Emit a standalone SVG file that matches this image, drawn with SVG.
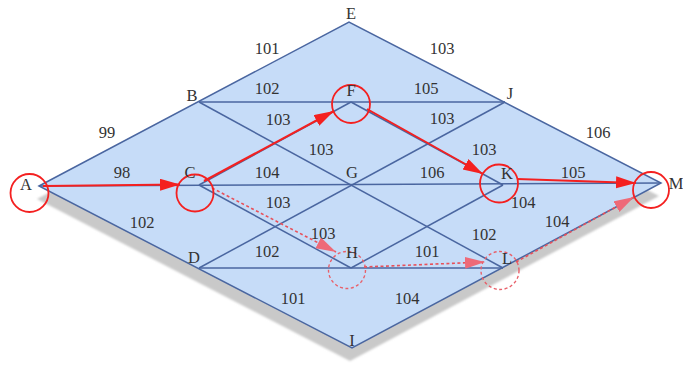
<svg xmlns="http://www.w3.org/2000/svg" width="683" height="367" viewBox="0 0 683 367">
<style>
.lbl{font-family:"Liberation Serif","Times New Roman",serif;font-size:16.5px;fill:#333;text-anchor:middle}
.edge{stroke:#4a66a0;stroke-width:1.5;fill:none}
.red{stroke:#f42020;stroke-width:2;fill:none}
.redd{stroke:#e8505a;stroke-width:1.6;fill:none;stroke-dasharray:3 2.5}
.ring{stroke:#f42020;stroke-width:1.8;fill:none}
.ringd{stroke:#e8606a;stroke-width:1.4;fill:none;stroke-dasharray:3 2.5}
</style>
<defs>
<marker id="ah" markerUnits="userSpaceOnUse" markerWidth="22" markerHeight="14" refX="20" refY="6" orient="auto"><path d="M0,0 L20,6 L0,12 z" fill="#f42020"/></marker>
<marker id="ahd" markerUnits="userSpaceOnUse" markerWidth="22" markerHeight="14" refX="20" refY="6" orient="auto"><path d="M0,0 L20,6 L0,12 z" fill="#ee6a78"/></marker>
<filter id="blur" x="-5%" y="-5%" width="110%" height="110%"><feGaussianBlur stdDeviation="1.2"/></filter>
</defs>
<polygon points="37,199 347,35 659,196 350,361" fill="#c9c9c9" filter="url(#blur)"/>
<polygon id="board" points="39,186 349,22 661,183 352,348" fill="#c6dcf8" stroke="#4a66a0" stroke-width="1.5"/>
<g id="connectors">
<line class="edge" x1="199" y1="102" x2="505" y2="102"/>
<line class="edge" x1="39" y1="186" x2="661" y2="183"/>
<line class="edge" x1="199" y1="268" x2="503" y2="268"/>
<line class="edge" x1="199" y1="102" x2="503" y2="268"/>
<line class="edge" x1="199" y1="268" x2="505" y2="102"/>
<line class="edge" x1="199" y1="185" x2="351" y2="102"/>
<line class="edge" x1="351" y1="102" x2="503" y2="185"/>
<line class="edge" x1="199" y1="185" x2="351" y2="268"/>
<line class="edge" x1="351" y1="268" x2="503" y2="185"/>
<line class="red" x1="43" y1="186" x2="180" y2="184.5" marker-end="url(#ah)"/>
<line class="red" x1="204" y1="181" x2="334" y2="111" marker-end="url(#ah)"/>
<line class="red" x1="367" y1="109" x2="483" y2="174" marker-end="url(#ah)"/>
<line class="red" x1="517" y1="179" x2="636" y2="183" marker-end="url(#ah)"/>
<line class="redd" x1="212" y1="188" x2="336" y2="252" marker-end="url(#ahd)"/>
<line class="redd" x1="364" y1="267" x2="485" y2="262" marker-end="url(#ahd)"/>
<line class="redd" x1="516" y1="262" x2="634" y2="197" marker-end="url(#ahd)"/>
</g>
<g id="edge-labels" class="lbl">
<text x="267" y="54">101</text>
<text x="442" y="54">103</text>
<text x="267" y="94">102</text>
<text x="426" y="94">105</text>
<text x="107" y="138">99</text>
<text x="278" y="125">103</text>
<text x="442" y="124">103</text>
<text x="598" y="138">106</text>
<text x="321" y="155">103</text>
<text x="484" y="155">103</text>
<text x="122" y="178">98</text>
<text x="267" y="178">104</text>
<text x="432" y="178">106</text>
<text x="573" y="178">105</text>
<text x="523" y="208">104</text>
<text x="142" y="228">102</text>
<text x="278" y="208">103</text>
<text x="557" y="227">104</text>
<text x="323" y="239">103</text>
<text x="484" y="240">102</text>
<text x="267" y="257">102</text>
<text x="427" y="257">101</text>
<text x="293" y="304">101</text>
<text x="407" y="304">104</text>
</g>
<g id="A"><circle class="ring" cx="29.5" cy="193" r="19"/><text class="lbl" x="26" y="190">A</text></g>
<g id="B"><text class="lbl" x="192" y="101">B</text></g>
<g id="C"><circle class="ring" cx="195" cy="193" r="18.5"/><text class="lbl" x="190" y="178">C</text></g>
<g id="D"><text class="lbl" x="194" y="263">D</text></g>
<g id="E"><text class="lbl" x="351" y="19">E</text></g>
<g id="F"><circle class="ring" cx="351" cy="104" r="19"/><text class="lbl" x="351" y="96">F</text></g>
<g id="G"><text class="lbl" x="352" y="178">G</text></g>
<g id="H"><circle class="ringd" cx="347" cy="270" r="18.5"/><text class="lbl" x="352" y="258">H</text></g>
<g id="I"><text class="lbl" x="352" y="346">I</text></g>
<g id="J"><text class="lbl" x="510" y="99">J</text></g>
<g id="K"><circle class="ring" cx="499" cy="183.5" r="19"/><text class="lbl" x="507" y="179">K</text></g>
<g id="L"><circle class="ringd" cx="500" cy="270.5" r="19"/><text class="lbl" x="507" y="264">L</text></g>
<g id="M"><circle class="ring" cx="651" cy="190" r="18"/><text class="lbl" x="676" y="189">M</text></g>
</svg>
